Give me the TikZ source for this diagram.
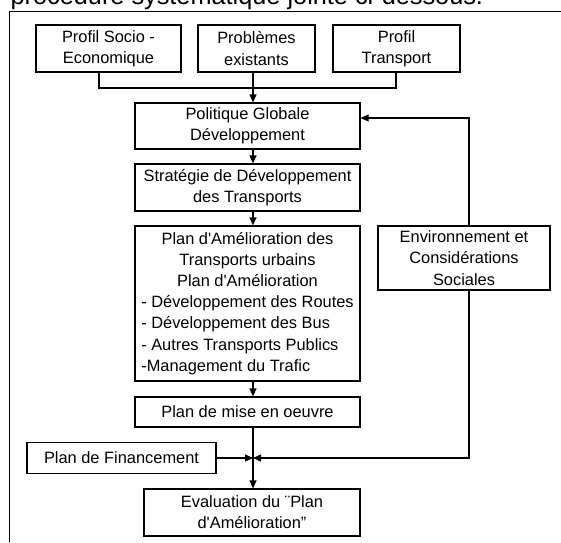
\documentclass[tikz,border=0pt]{standalone}
\usepackage{fontspec}
\setmainfont{Liberation Sans}[Ligatures=TeXOff]
\usetikzlibrary{arrows.meta}

\begin{document}
\begin{tikzpicture}[x=1pt, y=-1pt, line width=1.2pt,
  boite/.style={draw, inner sep=0pt, align=center, font=\fontsize{16.4}{21.2}\selectfont},
  fleche/.style={-{Triangle[length=8pt,width=7pt]}}]
  \useasboundingbox (0,0) rectangle (561,542);
  \begin{scope}
    \clip (0,0) rectangle (561,542);
    \node[anchor=base west, inner sep=0pt, font=\fontsize{25.3}{30}\selectfont] (titre) at (10,4) {procédure systématique jointe ci-dessous.};
  \end{scope}
  \draw[line width=1pt] (9,542) -- (9,11) -- (561,11);

  % entrees
  \node[boite, minimum width=145pt, minimum height=47pt] (socio) at (108.5,48.5) {Profil Socio -\\Economique};
  \node[boite, minimum width=117pt, minimum height=47pt] (problemes) at (256.5,48.5) {Problèmes\\existants};
  \node[boite, minimum width=127pt, minimum height=47pt] (transport) at (396.5,48.5) {Profil\\Transport};

  % chaine principale
  \node[boite, minimum width=225pt, minimum height=46pt] (politique) at (247.5,126) {Politique Globale\\Développement};
  \node[boite, minimum width=225pt, minimum height=47pt] (strategie) at (247.5,187.5) {Stratégie de Développement\\des Transports};
  \node[boite, minimum width=225pt, minimum height=155pt] (amelioration) at (247.5,303.5) {\begin{tabular}{@{}l@{}}
    \multicolumn{1}{@{}c@{}}{Plan d'Amélioration des}\\
    \multicolumn{1}{@{}c@{}}{Transports urbains}\\
    \multicolumn{1}{@{}c@{}}{Plan d'Amélioration}\\
    - Développement des Routes\\
    - Développement des Bus\\
    - Autres Transports Publics\\
    -Management du Trafic
  \end{tabular}};
  \node[boite, minimum width=225pt, minimum height=30pt] (miseoeuvre) at (247.5,412) {Plan de mise en oeuvre};
  \node[boite, minimum width=189pt, minimum height=31pt] (financement) at (121.5,458) {Plan de Financement};
  \node[boite, minimum width=216pt, minimum height=47pt] (evaluation) at (252,512.5) {Evaluation du ¨Plan\\d'Amélioration”};
  \node[boite, minimum width=172pt, minimum height=64pt] (environnement) at (464,258) {Environnement et\\Considérations\\Sociales};

  \coordinate (tronc) at (253,0);
  \coordinate (crochetG) at (99,88);
  \coordinate (crochetD) at (396,88);
  \coordinate (jonction) at (253,458);
  \coordinate (retour) at (469,118);

  \draw (crochetG |- socio.south) -- (crochetG) -- (crochetD) -- (crochetD |- transport.south);
  \draw[fleche] (problemes.south -| tronc) -- (politique.north -| tronc);
  \draw[fleche] (politique.south -| tronc) -- (strategie.north -| tronc);
  \draw[fleche] (strategie.south -| tronc) -- (amelioration.north -| tronc);
  \draw[fleche] (amelioration.south -| tronc) -- (miseoeuvre.north -| tronc);
  \draw[fleche] (miseoeuvre.south -| tronc) -- (evaluation.north -| tronc);
  \draw[fleche] (financement.east) -- (jonction);
  \draw[fleche] (environnement.south -| retour) |- (jonction);
  \draw[fleche] (environnement.north -| retour) -- (retour) -- (politique.east |- retour);
\end{tikzpicture}
\end{document}
